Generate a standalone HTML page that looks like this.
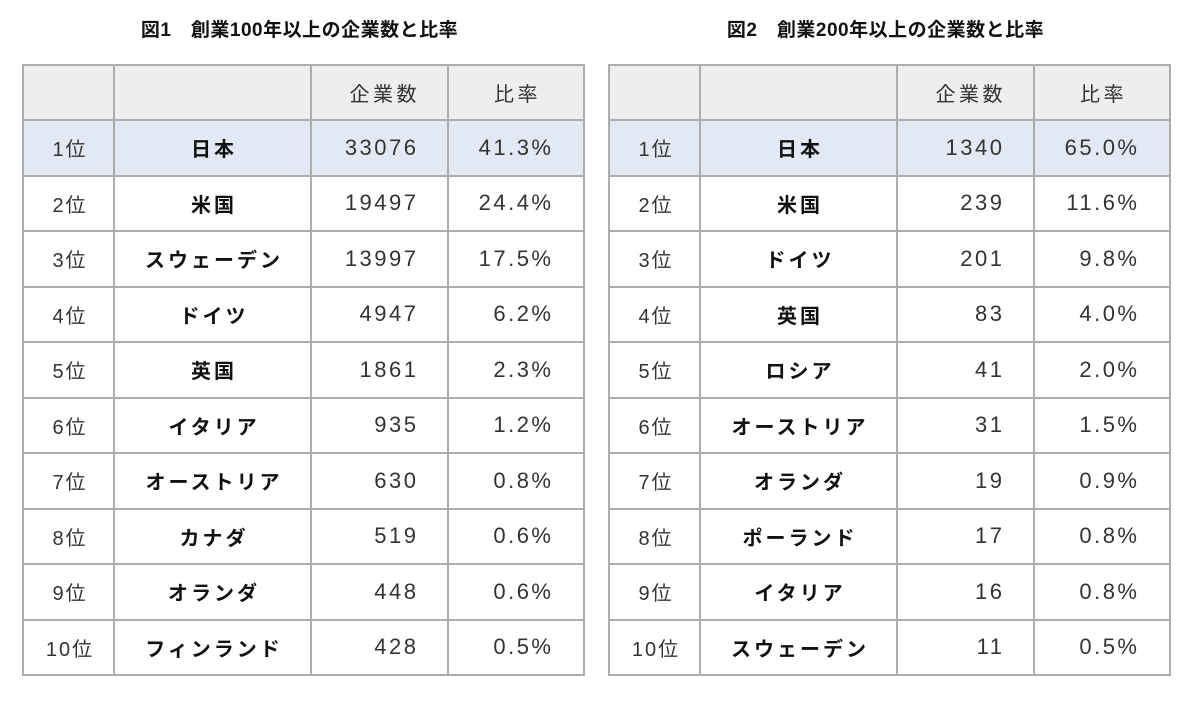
<!DOCTYPE html>
<html>
<head>
<meta charset="utf-8">
<style>
  html, body { margin:0; padding:0; background:#fff; }
  body { width:1201px; height:703px; position:relative; overflow:hidden;
         font-family:"Liberation Sans","Noto Sans CJK JP",sans-serif; }
  .title { position:absolute; top:20px; width:555px; height:22px; line-height:22px;
           text-align:center; font-weight:bold; font-size:19px; color:#111; letter-spacing:0.5px; }
  .t { position:absolute; top:64px; display:grid;
       grid-template-columns:89px 195px 135px 134px;
       grid-template-rows:53px repeat(10,53.5px);
       gap:2px; padding:2px; background:#adadad; }
  .t > div { background:#fff; display:flex; align-items:center; color:#333;
             font-size:20px; letter-spacing:3.5px; white-space:nowrap; }
  .t > div.h { background:#eeeeee; }
  .t > div.b { background:#e3e9f4; }
  .c { justify-content:center; padding-left:3px; }
  .n { justify-content:flex-end; padding-right:28.5px; font-size:22px !important; letter-spacing:2.5px !important; }
  .p { justify-content:flex-end; padding-right:29.5px; font-size:22px !important; letter-spacing:2.5px !important; }
  .hr { justify-content:flex-end; padding-right:27px; }
  .nm { justify-content:center; font-weight:bold; color:#111 !important; letter-spacing:3px !important; padding-left:3px; }
  .rk { justify-content:center; padding-left:3px; letter-spacing:2px !important; }
</style>
</head>
<body>
<div class="title" style="left:22px;">図1　創業100年以上の企業数と比率</div>
<div class="title" style="left:608px;">図2　創業200年以上の企業数と比率</div>

<div class="t" style="left:22px;">
  <div class="h"></div><div class="h"></div><div class="h hr">企業数</div><div class="h c">比率</div>
  <div class="b rk">1位</div><div class="b nm">日本</div><div class="b n">33076</div><div class="b p">41.3%</div>
  <div class="rk">2位</div><div class="nm">米国</div><div class="n">19497</div><div class="p">24.4%</div>
  <div class="rk">3位</div><div class="nm">スウェーデン</div><div class="n">13997</div><div class="p">17.5%</div>
  <div class="rk">4位</div><div class="nm">ドイツ</div><div class="n">4947</div><div class="p">6.2%</div>
  <div class="rk">5位</div><div class="nm">英国</div><div class="n">1861</div><div class="p">2.3%</div>
  <div class="rk">6位</div><div class="nm">イタリア</div><div class="n">935</div><div class="p">1.2%</div>
  <div class="rk">7位</div><div class="nm">オーストリア</div><div class="n">630</div><div class="p">0.8%</div>
  <div class="rk">8位</div><div class="nm">カナダ</div><div class="n">519</div><div class="p">0.6%</div>
  <div class="rk">9位</div><div class="nm">オランダ</div><div class="n">448</div><div class="p">0.6%</div>
  <div class="rk">10位</div><div class="nm">フィンランド</div><div class="n">428</div><div class="p">0.5%</div>
</div>

<div class="t" style="left:608px;">
  <div class="h"></div><div class="h"></div><div class="h hr">企業数</div><div class="h c">比率</div>
  <div class="b rk">1位</div><div class="b nm">日本</div><div class="b n">1340</div><div class="b p">65.0%</div>
  <div class="rk">2位</div><div class="nm">米国</div><div class="n">239</div><div class="p">11.6%</div>
  <div class="rk">3位</div><div class="nm">ドイツ</div><div class="n">201</div><div class="p">9.8%</div>
  <div class="rk">4位</div><div class="nm">英国</div><div class="n">83</div><div class="p">4.0%</div>
  <div class="rk">5位</div><div class="nm">ロシア</div><div class="n">41</div><div class="p">2.0%</div>
  <div class="rk">6位</div><div class="nm">オーストリア</div><div class="n">31</div><div class="p">1.5%</div>
  <div class="rk">7位</div><div class="nm">オランダ</div><div class="n">19</div><div class="p">0.9%</div>
  <div class="rk">8位</div><div class="nm">ポーランド</div><div class="n">17</div><div class="p">0.8%</div>
  <div class="rk">9位</div><div class="nm">イタリア</div><div class="n">16</div><div class="p">0.8%</div>
  <div class="rk">10位</div><div class="nm">スウェーデン</div><div class="n">11</div><div class="p">0.5%</div>
</div>
</body>
</html>
